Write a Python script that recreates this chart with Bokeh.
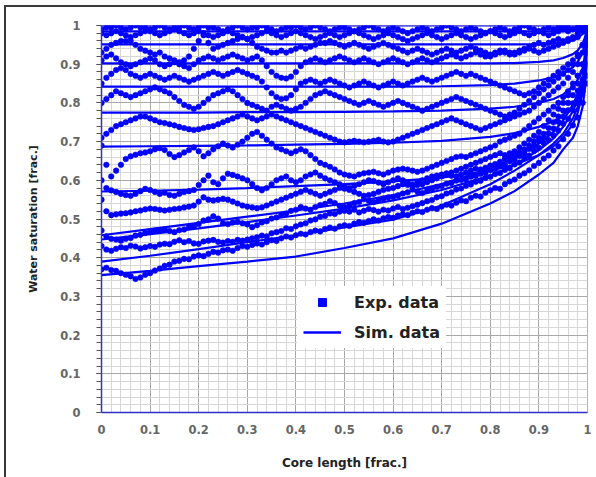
from bokeh.plotting import figure
from bokeh.layouts import column
from bokeh.models import Range1d, FixedTicker, Legend, LegendItem
from bokeh.embed import file_html
from bokeh.resources import INLINE

# ---------------- data ----------------
# sampling positions along the core for the measured profiles
core_length = [round(i * 0.01, 2) for i in range(101)]

# measured water-saturation profiles (one list per time step)
exp_sw_01 = [0.99, 0.995, 0.995, 1.0, 0.995, 0.99, 0.995, 1.0, 0.995, 0.995,
             0.99, 0.995, 1.0, 0.995, 0.99, 0.995, 0.995, 1.0, 0.995, 0.99,
             0.995, 1.0, 0.995, 0.995, 0.99, 0.985, 0.99, 0.995, 1.0, 0.995,
             0.99, 0.995, 0.995, 1.0, 0.995, 0.99, 0.985, 0.99, 0.995, 0.995,
             1.0, 0.995, 0.99, 0.995, 1.0, 0.995, 0.99, 0.985, 0.99, 0.995,
             0.995, 0.99, 0.985, 0.99, 0.995, 1.0, 0.995, 0.99, 0.985, 0.99,
             0.995, 0.99, 0.985, 0.98, 0.985, 0.99, 0.995, 0.99, 0.985, 0.99,
             0.995, 1.0, 0.995, 0.99, 0.985, 0.99, 0.995, 0.99, 0.985, 0.98,
             0.985, 0.99, 0.995, 0.99, 0.985, 0.99, 0.995, 1.0, 0.995, 0.99,
             0.985, 0.99, 0.995, 0.99, 0.995, 1.0, 0.995, 0.99, 0.995, 1.0, 1.0]
exp_sw_02 = [0.98, 0.975, 0.98, 0.985, 0.98, 0.975, 0.97, 0.975, 0.98, 0.985,
             0.985, 0.98, 0.975, 0.98, 0.985, 0.99, 0.985, 0.98, 0.975, 0.98,
             0.985, 0.98, 0.975, 0.97, 0.975, 0.98, 0.985, 0.98, 0.975, 0.97,
             0.965, 0.97, 0.975, 0.98, 0.985, 0.98, 0.975, 0.97, 0.975, 0.98,
             0.985, 0.98, 0.975, 0.97, 0.965, 0.97, 0.975, 0.98, 0.975, 0.97,
             0.975, 0.98, 0.985, 0.98, 0.975, 0.97, 0.965, 0.97, 0.975, 0.98,
             0.975, 0.97, 0.965, 0.96, 0.965, 0.97, 0.975, 0.98, 0.975, 0.97,
             0.965, 0.97, 0.975, 0.98, 0.975, 0.97, 0.965, 0.97, 0.975, 0.98,
             0.985, 0.98, 0.975, 0.97, 0.975, 0.98, 0.985, 0.98, 0.975, 0.98,
             0.985, 0.98, 0.975, 0.98, 0.985, 0.99, 0.985, 0.99, 0.995, 1.0, 1.0]
exp_sw_03 = [0.93, 0.94, 0.95, 0.955, 0.96, 0.96, 0.96, 0.95, 0.94, 0.935,
             0.93, 0.925, 0.93, 0.92, 0.915, 0.91, 0.905, 0.91, 0.92, 0.94,
             0.96, 0.975, 0.955, 0.94, 0.945, 0.95, 0.955, 0.96, 0.965, 0.97,
             0.965, 0.955, 0.945, 0.94, 0.935, 0.93, 0.93, 0.935, 0.93, 0.935,
             0.94, 0.945, 0.94, 0.945, 0.95, 0.955, 0.955, 0.96, 0.955, 0.95,
             0.945, 0.95, 0.955, 0.95, 0.945, 0.94, 0.945, 0.95, 0.955, 0.95,
             0.945, 0.94, 0.935, 0.93, 0.935, 0.94, 0.935, 0.93, 0.925, 0.93,
             0.935, 0.94, 0.935, 0.93, 0.935, 0.94, 0.945, 0.94, 0.935, 0.93,
             0.925, 0.93, 0.935, 0.93, 0.925, 0.93, 0.935, 0.94, 0.945, 0.95,
             0.955, 0.95, 0.955, 0.96, 0.965, 0.96, 0.965, 0.97, 0.98, 0.99, 1.0]
exp_sw_04 = [0.91, 0.92, 0.925, 0.915, 0.905, 0.9, 0.895, 0.9, 0.905, 0.91,
             0.915, 0.91, 0.9, 0.895, 0.9, 0.905, 0.9, 0.895, 0.89, 0.9,
             0.91, 0.915, 0.92, 0.915, 0.91, 0.915, 0.92, 0.925, 0.92, 0.915,
             0.91, 0.915, 0.92, 0.91, 0.895, 0.88, 0.87, 0.865, 0.863, 0.868,
             0.88, 0.895, 0.905, 0.91, 0.915, 0.91, 0.905, 0.91, 0.915, 0.92,
             0.915, 0.91, 0.905, 0.91, 0.915, 0.91, 0.905, 0.9, 0.905, 0.91,
             0.915, 0.91, 0.905, 0.9, 0.905, 0.91, 0.915, 0.91, 0.905, 0.91,
             0.915, 0.92, 0.925, 0.92, 0.915, 0.92, 0.925, 0.93, 0.925, 0.92,
             0.92, 0.925, 0.93, 0.935, 0.93, 0.925, 0.93, 0.935, 0.94, 0.935,
             0.93, 0.935, 0.94, 0.945, 0.95, 0.955, 0.96, 0.965, 0.97, 0.985, 1.0]
exp_sw_05 = [0.85, 0.865, 0.875, 0.885, 0.89, 0.885, 0.875, 0.87, 0.865, 0.87,
             0.875, 0.87, 0.865, 0.86, 0.865, 0.87, 0.865, 0.86, 0.855, 0.86,
             0.865, 0.87, 0.875, 0.88, 0.875, 0.87, 0.875, 0.88, 0.885, 0.88,
             0.875, 0.87, 0.865, 0.855, 0.84, 0.825, 0.815, 0.81, 0.812, 0.82,
             0.835, 0.85, 0.855, 0.86, 0.855, 0.85, 0.855, 0.86, 0.855, 0.85,
             0.845, 0.84, 0.845, 0.85, 0.855, 0.85, 0.845, 0.84, 0.845, 0.85,
             0.855, 0.85, 0.845, 0.85, 0.855, 0.86, 0.865, 0.86, 0.855, 0.86,
             0.865, 0.87, 0.875, 0.88, 0.875, 0.87, 0.875, 0.87, 0.865, 0.86,
             0.855, 0.85, 0.845, 0.84, 0.835, 0.83, 0.825, 0.82, 0.825, 0.83,
             0.84, 0.85, 0.86, 0.87, 0.88, 0.89, 0.9, 0.91, 0.925, 0.95, 0.99]
exp_sw_06 = [0.8, 0.81, 0.82, 0.83, 0.825, 0.82, 0.815, 0.82, 0.825, 0.83,
             0.835, 0.84, 0.835, 0.83, 0.825, 0.815, 0.805, 0.795, 0.79, 0.785,
             0.79, 0.8, 0.81, 0.82, 0.825, 0.83, 0.835, 0.83, 0.82, 0.81,
             0.8, 0.795, 0.79, 0.785, 0.78, 0.79, 0.795, 0.79, 0.785, 0.78,
             0.785, 0.79, 0.8, 0.81, 0.82, 0.825, 0.83, 0.825, 0.82, 0.815,
             0.81, 0.805, 0.8, 0.795, 0.8, 0.805, 0.8, 0.795, 0.79, 0.795,
             0.8, 0.805, 0.8, 0.795, 0.79, 0.785, 0.78, 0.785, 0.79, 0.795,
             0.8, 0.805, 0.81, 0.815, 0.81, 0.805, 0.8, 0.795, 0.79, 0.785,
             0.78, 0.775, 0.77, 0.765, 0.77, 0.775, 0.785, 0.795, 0.805, 0.815,
             0.825, 0.835, 0.845, 0.855, 0.865, 0.875, 0.885, 0.9, 0.92, 0.95, 0.98]
exp_sw_07 = [0.71, 0.72, 0.73, 0.74, 0.745, 0.75, 0.755, 0.76, 0.765, 0.765,
             0.76, 0.755, 0.75, 0.748, 0.745, 0.742, 0.738, 0.735, 0.732, 0.73,
             0.732, 0.735, 0.738, 0.74, 0.745, 0.75, 0.755, 0.76, 0.765, 0.77,
             0.765, 0.76, 0.755, 0.76, 0.765, 0.77, 0.765, 0.76, 0.755, 0.75,
             0.745, 0.74, 0.735, 0.73, 0.725, 0.72, 0.715, 0.71, 0.705, 0.7,
             0.698, 0.7, 0.702, 0.7, 0.698, 0.7, 0.702, 0.705, 0.7, 0.698,
             0.7, 0.705, 0.71, 0.715, 0.72, 0.725, 0.73, 0.735, 0.74, 0.745,
             0.75, 0.755, 0.76, 0.755, 0.75, 0.745, 0.74, 0.735, 0.73, 0.735,
             0.74, 0.745, 0.75, 0.755, 0.76, 0.765, 0.77, 0.775, 0.78, 0.79,
             0.8, 0.81, 0.82, 0.83, 0.84, 0.85, 0.865, 0.88, 0.9, 0.93, 0.97]
exp_sw_08 = [0.69, 0.64, 0.61, 0.625, 0.64, 0.655, 0.662, 0.666, 0.67, 0.672,
             0.675, 0.68, 0.683, 0.678, 0.668, 0.66, 0.665, 0.672, 0.678, 0.685,
             0.675, 0.662, 0.67, 0.68, 0.688, 0.695, 0.69, 0.685, 0.692, 0.7,
             0.71, 0.72, 0.725, 0.715, 0.705, 0.695, 0.685, 0.68, 0.675, 0.67,
             0.675, 0.68, 0.675, 0.665, 0.655, 0.645, 0.64, 0.635, 0.628, 0.62,
             0.615, 0.612, 0.61, 0.615, 0.618, 0.62, 0.622, 0.618, 0.615, 0.62,
             0.625, 0.628, 0.63, 0.628, 0.625, 0.622, 0.625, 0.63, 0.635, 0.64,
             0.645, 0.65, 0.655, 0.66, 0.662, 0.66, 0.665, 0.67, 0.675, 0.68,
             0.685, 0.69, 0.7, 0.705, 0.71, 0.715, 0.72, 0.73, 0.74, 0.75,
             0.76, 0.77, 0.78, 0.79, 0.8, 0.815, 0.83, 0.85, 0.87, 0.9, 0.95]
exp_sw_09 = [0.6, 0.58, 0.574, 0.57, 0.565, 0.562, 0.56, 0.565, 0.572, 0.578,
             0.575, 0.57, 0.565, 0.568, 0.562, 0.56, 0.565, 0.57, 0.572, 0.575,
             0.588, 0.6, 0.612, 0.595, 0.59, 0.605, 0.617, 0.614, 0.61, 0.605,
             0.6, 0.59, 0.58, 0.574, 0.58, 0.59, 0.6, 0.605, 0.61, 0.6,
             0.595, 0.6, 0.61, 0.615, 0.62, 0.612, 0.605, 0.6, 0.595, 0.59,
             0.585, 0.58, 0.585, 0.59, 0.595, 0.6, 0.598, 0.594, 0.59, 0.595,
             0.6, 0.605, 0.6, 0.595, 0.59, 0.595, 0.6, 0.605, 0.61, 0.612,
             0.615, 0.618, 0.62, 0.625, 0.63, 0.635, 0.64, 0.645, 0.65, 0.655,
             0.66, 0.665, 0.67, 0.665, 0.67, 0.675, 0.685, 0.695, 0.705, 0.715,
             0.725, 0.74, 0.755, 0.77, 0.785, 0.8, 0.82, 0.84, 0.87, 0.9, 0.95]
exp_sw_10 = [0.55, 0.52, 0.51, 0.512, 0.514, 0.515, 0.517, 0.52, 0.522, 0.525,
             0.527, 0.526, 0.524, 0.522, 0.524, 0.526, 0.527, 0.53, 0.532, 0.535,
             0.545, 0.556, 0.55, 0.548, 0.55, 0.552, 0.55, 0.545, 0.54, 0.535,
             0.532, 0.53, 0.528, 0.53, 0.535, 0.54, 0.545, 0.55, 0.555, 0.56,
             0.565, 0.57, 0.575, 0.57, 0.565, 0.56, 0.565, 0.57, 0.575, 0.58,
             0.578, 0.575, 0.57, 0.565, 0.56, 0.562, 0.565, 0.57, 0.575, 0.578,
             0.58, 0.585, 0.59, 0.588, 0.585, 0.588, 0.59, 0.595, 0.6, 0.605,
             0.61, 0.615, 0.612, 0.61, 0.615, 0.62, 0.625, 0.63, 0.628, 0.632,
             0.638, 0.642, 0.648, 0.655, 0.66, 0.665, 0.672, 0.68, 0.69, 0.7,
             0.71, 0.72, 0.735, 0.75, 0.765, 0.78, 0.8, 0.82, 0.85, 0.88, 0.93]
exp_sw_11 = [0.47, 0.455, 0.449, 0.447, 0.444, 0.449, 0.451, 0.457, 0.459, 0.464,
             0.466, 0.47, 0.469, 0.473, 0.469, 0.466, 0.471, 0.473, 0.479, 0.481,
             0.487, 0.496, 0.499, 0.507, 0.501, 0.489, 0.487, 0.491, 0.493, 0.489,
             0.486, 0.479, 0.484, 0.491, 0.494, 0.501, 0.504, 0.511, 0.514, 0.521,
             0.524, 0.531, 0.527, 0.524, 0.531, 0.536, 0.539, 0.546, 0.541, 0.534,
             0.531, 0.534, 0.541, 0.544, 0.551, 0.547, 0.544, 0.549, 0.553, 0.556,
             0.557, 0.561, 0.566, 0.569, 0.576, 0.571, 0.567, 0.573, 0.577, 0.583,
             0.585, 0.591, 0.593, 0.599, 0.601, 0.603, 0.609, 0.611, 0.617, 0.619,
             0.626, 0.629, 0.637, 0.641, 0.649, 0.654, 0.663, 0.669, 0.681, 0.689,
             0.701, 0.709, 0.721, 0.734, 0.751, 0.764, 0.781, 0.799, 0.831, 0.86, 0.9]
exp_sw_12 = [0.43, 0.421, 0.418, 0.423, 0.427, 0.425, 0.431, 0.429, 0.424, 0.427,
             0.43, 0.428, 0.434, 0.436, 0.435, 0.441, 0.445, 0.44, 0.443, 0.437,
             0.436, 0.442, 0.444, 0.446, 0.441, 0.439, 0.443, 0.441, 0.446, 0.444,
             0.447, 0.45, 0.453, 0.457, 0.455, 0.463, 0.466, 0.469, 0.476, 0.474,
             0.481, 0.486, 0.489, 0.496, 0.499, 0.506, 0.508, 0.514, 0.513, 0.519,
             0.521, 0.519, 0.524, 0.517, 0.521, 0.526, 0.523, 0.519, 0.524, 0.522,
             0.527, 0.531, 0.526, 0.529, 0.533, 0.537, 0.541, 0.546, 0.549, 0.556,
             0.559, 0.566, 0.569, 0.576, 0.579, 0.586, 0.589, 0.596, 0.599, 0.606,
             0.609, 0.616, 0.619, 0.627, 0.631, 0.641, 0.646, 0.657, 0.664, 0.676,
             0.684, 0.696, 0.704, 0.716, 0.729, 0.746, 0.759, 0.781, 0.799, 0.83, 0.87]
exp_sw_13 = [0.37, 0.374, 0.368, 0.366, 0.36, 0.356, 0.352, 0.345, 0.349, 0.356,
             0.36, 0.367, 0.372, 0.379, 0.382, 0.39, 0.392, 0.397, 0.396, 0.403,
             0.406, 0.404, 0.41, 0.415, 0.413, 0.419, 0.421, 0.418, 0.425, 0.43,
             0.428, 0.433, 0.437, 0.434, 0.44, 0.445, 0.443, 0.45, 0.455, 0.452,
             0.458, 0.462, 0.46, 0.466, 0.47, 0.468, 0.474, 0.478, 0.475, 0.481,
             0.484, 0.482, 0.488, 0.492, 0.49, 0.495, 0.499, 0.496, 0.502, 0.505,
             0.503, 0.509, 0.512, 0.51, 0.516, 0.52, 0.518, 0.524, 0.528, 0.526,
             0.532, 0.537, 0.535, 0.542, 0.548, 0.546, 0.555, 0.56, 0.558, 0.568,
             0.574, 0.58, 0.578, 0.59, 0.597, 0.602, 0.612, 0.618, 0.626, 0.637,
             0.645, 0.656, 0.664, 0.677, 0.688, 0.706, 0.72, 0.742, 0.762, 0.8, 0.85]

exp_profiles = [exp_sw_01, exp_sw_02, exp_sw_03, exp_sw_04, exp_sw_05, exp_sw_06, exp_sw_07,
                exp_sw_08, exp_sw_09, exp_sw_10, exp_sw_11, exp_sw_12, exp_sw_13]

# simulated profiles, evaluated at these positions
sim_core_length = [0.0, 0.1, 0.2, 0.3, 0.4, 0.5, 0.6, 0.7, 0.8, 0.85, 0.9, 0.93, 0.95,
                   0.97, 0.98, 0.99, 0.995, 1.0]
sim_sw_01 = [1.0, 1.0, 1.0, 1.0, 1.0, 1.0, 1.0, 1.0, 1.0, 1.0, 1.0, 1.0, 1.0, 1.0, 1.0, 1.0, 1.0, 1.0]
sim_sw_02 = [0.985, 0.985, 0.985, 0.985, 0.985, 0.985, 0.985, 0.985, 0.985, 0.985, 0.985, 0.985,
             0.985, 0.986, 0.988, 0.991, 0.994, 1.0]
sim_sw_03 = [0.951, 0.951, 0.951, 0.951, 0.951, 0.951, 0.951, 0.951, 0.951, 0.951, 0.952, 0.954,
             0.957, 0.962, 0.968, 0.978, 0.987, 1.0]
sim_sw_04 = [0.902, 0.902, 0.902, 0.902, 0.902, 0.902, 0.902, 0.902, 0.902, 0.903, 0.906, 0.91,
             0.916, 0.926, 0.936, 0.953, 0.97, 1.0]
sim_sw_05 = [0.842, 0.842, 0.842, 0.842, 0.842, 0.842, 0.842, 0.843, 0.846, 0.85, 0.858, 0.866,
             0.876, 0.892, 0.906, 0.93, 0.955, 1.0]
sim_sw_06 = [0.775, 0.775, 0.775, 0.776, 0.776, 0.777, 0.778, 0.78, 0.785, 0.79, 0.8, 0.81,
             0.822, 0.842, 0.86, 0.89, 0.925, 1.0]
sim_sw_07 = [0.687, 0.688, 0.689, 0.69, 0.692, 0.694, 0.697, 0.702, 0.712, 0.722, 0.738, 0.752,
             0.768, 0.792, 0.812, 0.848, 0.89, 1.0]
sim_sw_08 = [0.571, 0.573, 0.576, 0.58, 0.585, 0.59, 0.597, 0.607, 0.625, 0.64, 0.665, 0.688,
             0.71, 0.745, 0.775, 0.825, 0.875, 1.0]
sim_sw_09 = [0.458, 0.474, 0.49, 0.506, 0.522, 0.54, 0.562, 0.59, 0.63, 0.658, 0.695, 0.725,
             0.755, 0.795, 0.825, 0.87, 0.91, 1.0]
sim_sw_10 = [0.447, 0.461, 0.476, 0.492, 0.509, 0.527, 0.548, 0.575, 0.612, 0.64, 0.678, 0.708,
             0.738, 0.778, 0.81, 0.855, 0.9, 1.0]
sim_sw_11 = [0.39, 0.405, 0.422, 0.44, 0.458, 0.478, 0.498, 0.535, 0.59, 0.625, 0.665, 0.695,
             0.72, 0.76, 0.79, 0.84, 0.885, 1.0]
sim_sw_12 = [0.355, 0.366, 0.378, 0.39, 0.403, 0.425, 0.45, 0.488, 0.54, 0.572, 0.615, 0.645,
             0.68, 0.71, 0.74, 0.79, 0.84, 0.95]

sim_profiles = [sim_sw_01, sim_sw_02, sim_sw_03, sim_sw_04, sim_sw_05, sim_sw_06,
                sim_sw_07, sim_sw_08, sim_sw_09, sim_sw_10, sim_sw_11, sim_sw_12]

# axis ticks
major_ticks = [0.0, 0.1, 0.2, 0.3, 0.4, 0.5, 0.6, 0.7, 0.8, 0.9, 1.0]
tick_labels = ["0", "0.1", "0.2", "0.3", "0.4", "0.5", "0.6", "0.7", "0.8", "0.9", "1"]
minor_ticks = [round(i * 0.02, 2) for i in range(51)]

# ---------------- figure ----------------
BLUE = "#0000ff"
FONT = "DejaVu Sans"

p = figure(width=590, height=470, output_backend="svg", toolbar_location=None,
           x_range=Range1d(0, 1), y_range=Range1d(0, 1),
           min_border_left=95, min_border_right=9, min_border_top=18, min_border_bottom=65,
           background_fill_color="white", border_fill_color="white")
p.outline_line_color = "#b4b4b4"

for g in (p.xgrid, p.ygrid):
    g.ticker = FixedTicker(ticks=major_ticks, minor_ticks=minor_ticks)
    g.grid_line_color = "#a8a8a8"
    g.grid_line_width = 1
    g.minor_grid_line_color = "#d6d6d6"
    g.minor_grid_line_width = 1

for ax in (p.xaxis[0], p.yaxis[0]):
    ax.ticker = FixedTicker(ticks=major_ticks, minor_ticks=minor_ticks)
    ax.major_label_overrides = dict(zip(major_ticks, tick_labels))
    ax.axis_line_color = "#3030c8"
    ax.axis_line_width = 1.5
    ax.major_label_text_font = FONT
    ax.major_label_text_font_style = "bold"
    ax.major_label_text_font_size = "11.5px"
    ax.major_label_text_color = "#666666"
    ax.axis_label_text_font = FONT
    ax.axis_label_text_font_style = "bold"
    ax.axis_label_text_color = "#222222"

p.xaxis.axis_label = "Core length [frac.]"
p.xaxis.axis_label_text_font_size = "12px"
p.xaxis.major_tick_out = 0
p.xaxis.major_tick_in = 0
p.xaxis.minor_tick_out = 0
p.xaxis.minor_tick_in = 0
p.xaxis.major_label_standoff = 12
p.xaxis.axis_label_standoff = 19

p.yaxis.axis_label = "Water saturation [frac.]"
p.yaxis.axis_label_text_font_size = "11px"
p.yaxis.major_tick_out = 5
p.yaxis.major_tick_in = 0
p.yaxis.minor_tick_out = 5
p.yaxis.minor_tick_in = 0
p.yaxis.major_tick_line_color = "#555555"
p.yaxis.minor_tick_line_color = "#555555"
p.yaxis.major_label_standoff = 16
p.yaxis.axis_label_standoff = 17

# measured points
for ys in exp_profiles:
    p.scatter(core_length, ys, marker="circle", size=5.6, fill_color=BLUE, line_color=BLUE,
              line_width=0.5)

# simulated curves
for ys in sim_profiles:
    p.line(sim_core_length, ys, line_color=BLUE, line_width=2.2)

# legend swatches: renderers holding a single NaN so only the key glyph is drawn
nan = float("nan")
leg_exp = p.scatter([nan], [nan], marker="square", size=9, fill_color=BLUE, line_color=BLUE)
leg_sim = p.line([nan, nan], [nan, nan], line_color=BLUE, line_width=2.5)

legend = Legend(items=[LegendItem(label="Exp. data", renderers=[leg_exp]),
                       LegendItem(label="Sim. data", renderers=[leg_sim])],
                location=(196, 64), orientation="vertical",
                label_text_font=FONT, label_text_font_style="bold",
                label_text_font_size="16px", label_text_color="#222222",
                glyph_width=38, glyph_height=20, label_height=20, label_standoff=13,
                spacing=10, padding=6, margin=0,
                background_fill_color="white", background_fill_alpha=1.0,
                border_line_alpha=0)
p.add_layout(legend, "center")

page = column(p, margin=(5, 0, 0, 4),
              styles={"border-top": "2px solid #3a3a3a", "border-left": "2px solid #3a3a3a"})

open("out.html", "w").write(file_html(page, INLINE))
